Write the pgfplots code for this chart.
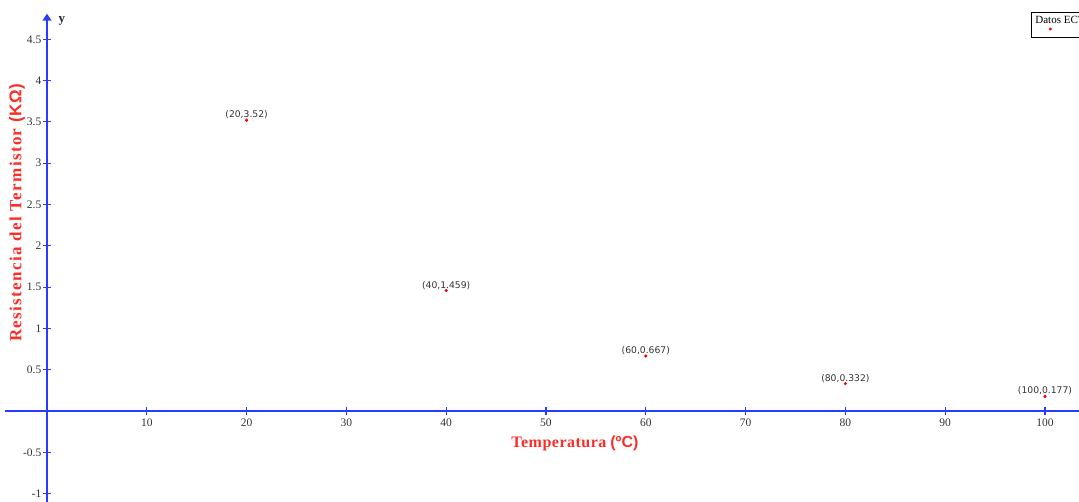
\documentclass[border=0pt]{standalone}
\usepackage{fontspec}
\setmainfont{Liberation Serif}
\newfontfamily\sansf{Liberation Sans}
\newfontfamily\dejavu{DejaVu Sans}
\usepackage{pgfplots}
\pgfplotsset{compat=1.18}
\usetikzlibrary{arrows.meta}
\definecolor{axblue}{RGB}{40,60,255}
\definecolor{labred}{RGB}{250,45,40}
\definecolor{ticktext}{RGB}{50,50,50}
\begin{document}
\begin{tikzpicture}
\begin{axis}[
  x=9.98pt, y=82.6pt,
  axis lines=middle,
  xmin=-4.2, xmax=104.5, ymin=-1.15, ymax=4.81,
  axis line style={axblue, line width=1.6pt},
  x axis line style={-},
  y axis line style={-{Triangle[width=9pt,length=7pt]}},
  xtick={10,20,...,100},
  ytick={-1,-0.5,0.5,1,1.5,2,2.5,3,3.5,4,4.5},
  tick style={axblue, line width=1.1pt},
  major tick length=8pt,
  tick align=center,
  tick label style={font=\fontsize{11.5}{11.5}\selectfont, text=ticktext},
  /pgf/number format/assume math mode=true,
  xticklabel style={inner sep=1.5pt, yshift=-2.5pt},
  yticklabel style={inner sep=1.5pt},
  clip=false,
]
\addplot[only marks, mark=*, mark size=1.4pt, red,
  point meta=explicit symbolic, nodes near coords,
  nodes near coords style={font=\dejavu\fontsize{9.2}{9.2}\selectfont, text=ticktext, anchor=south, inner sep=1pt}]
  table[meta=lab] {
x y lab
20 3.52 (20,3.52)
40 1.459 (40,1.459)
60 0.667 (60,0.667)
80 0.332 (80,0.332)
100 0.177 (100,0.177)
};
\node[rotate=90, text=labred, font=\bfseries\fontsize{17}{17}\selectfont] at (axis cs:-3.0,2.40) {\addfontfeatures{LetterSpace=8}Resistencia del Termistor {\sansf\addfontfeatures{LetterSpace=4}(KΩ)}};
\node[text=labred, font=\bfseries\fontsize{16}{16}\selectfont] at (axis cs:52.9,-0.387) {{\addfontfeatures{LetterSpace=3}Temperatura} {\sansf(ºC)}};
\node[font=\bfseries\fontsize{13}{13}\selectfont, text=black!85] at (axis cs:1.5,4.72) {y};
\node[draw=black, line width=0.8pt, anchor=north west, inner xsep=4pt, inner ysep=4pt, font=\fontsize{11}{11}\selectfont, align=left] at (axis cs:98.6,4.83) {Datos ECT\\[-1pt]\hspace*{13pt}{\color{red}\fontsize{12}{12}\selectfont\textbullet}};
\coordinate (bbsw) at (axis cs:-4.71,-1.09);
\coordinate (bbne) at (axis cs:103.41,4.976);
\end{axis}
\pgfresetboundingbox
\path[use as bounding box] (bbsw) rectangle (bbne);
\end{tikzpicture}
\end{document}
